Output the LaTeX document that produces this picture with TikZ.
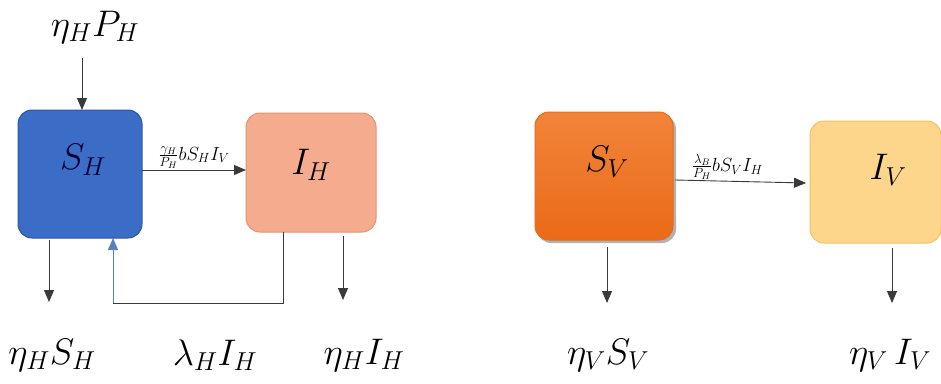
\documentclass[tikz,border=0pt]{standalone}
\usepackage{fix-cm}
\usetikzlibrary{arrows.meta,shadows}
\definecolor{shfill}{HTML}{3B6DC6}
\definecolor{shdraw}{HTML}{2A56A8}
\definecolor{ihfill}{HTML}{F5AB8D}
\definecolor{ihdraw}{HTML}{E8906C}
\definecolor{svtop}{HTML}{F2843A}
\definecolor{svbot}{HTML}{EA6A18}
\definecolor{ivfill}{HTML}{FDD68C}
\definecolor{ivdraw}{HTML}{F2C35E}
\definecolor{lineg}{HTML}{3A3A3A}
\definecolor{fbblue}{HTML}{5A7FC0}
\begin{document}
\begin{tikzpicture}[x=1pt,y=-1pt,
  box/.style={rounded corners=14pt, line width=1pt},
  big/.style={font=\fontsize{37}{40}\selectfont, inner sep=0pt},
  small/.style={font=\fontsize{19}{22}\selectfont, inner sep=1pt},
  tip/.style={-{Triangle[length=12pt,width=10pt]}},
  flow/.style={draw=lineg, line width=0.9pt, tip}]
\useasboundingbox (0,0) rectangle (941,383);
% boxes
\draw[box, fill=shfill, draw=shdraw] (18,110) rectangle (142,238);
\draw[box, draw=ihdraw, fill=ihfill] (246,113) rectangle (376,232);
\fill[black!30, rounded corners=14pt] (537,115) rectangle (676,243);
\shade[box, top color=svtop, bottom color=svbot, draw=svbot] (535,112) rectangle (673,240);
\draw[box, draw=ivdraw, fill=ivfill] (810,121) rectangle (941,243);
% box labels
\node[big, text=black!80!blue] (SH) at (83,160) {$S_H$};
\node[big] (IH) at (311,165) {$I_H$};
\node[big] (SV) at (607,162) {$S_V$};
\node[big] (IV) at (888,170) {$I_V$};
% outside labels
\node[big] (PH) at (95,27) {$\eta_H P_H$};
\node[big] (ESH) at (52,355) {$\eta_H S_H$};
\node[big] (LIH) at (215,355) {$\lambda_H I_H$};
\node[big] (EIH) at (364,355) {$\eta_H I_H$};
\node[big] (ESV) at (608,355) {$\eta_V S_V$};
\node[big] (EIV) at (890,355) {$\eta_V\, I_V$};
% coordinates
\coordinate (a1) at (82,58);
\coordinate (a2) at (82,110);
\coordinate (b1) at (142,170);
\coordinate (b2) at (246,170);
\coordinate (c1) at (49,240);
\coordinate (c2) at (49,302);
\coordinate (d1) at (283,232);
\coordinate (d2) at (283,303);
\coordinate (d3) at (113,303);
\coordinate (d4) at (113,238);
\coordinate (e1) at (343,236);
\coordinate (e2) at (343,300);
\coordinate (f1) at (675,180);
\coordinate (f2) at (806,183);
\coordinate (g1) at (607,247);
\coordinate (g2) at (607,303);
\coordinate (h1) at (892,248);
\coordinate (h2) at (892,303);
% arrows
\draw[flow] (a1) -- (a2);
\draw[flow] (b1) -- node[small, above, pos=0.5] {$\frac{\gamma_H}{P_H} bS_HI_V$} (b2);
\draw[flow] (c1) -- (c2);
\draw[line width=0.9pt, draw=lineg] (d1) -- (d2) -- (d3);
\draw[line width=0.9pt, draw=fbblue, tip] (d3) -- (d4);
\draw[flow] (e1) -- (e2);
\draw[flow] (f1) -- node[small, above, pos=0.4] {$\frac{\lambda_B}{P_H} bS_VI_H$} (f2);
\draw[flow] (g1) -- (g2);
\draw[flow] (h1) -- (h2);
\end{tikzpicture}
\end{document}
